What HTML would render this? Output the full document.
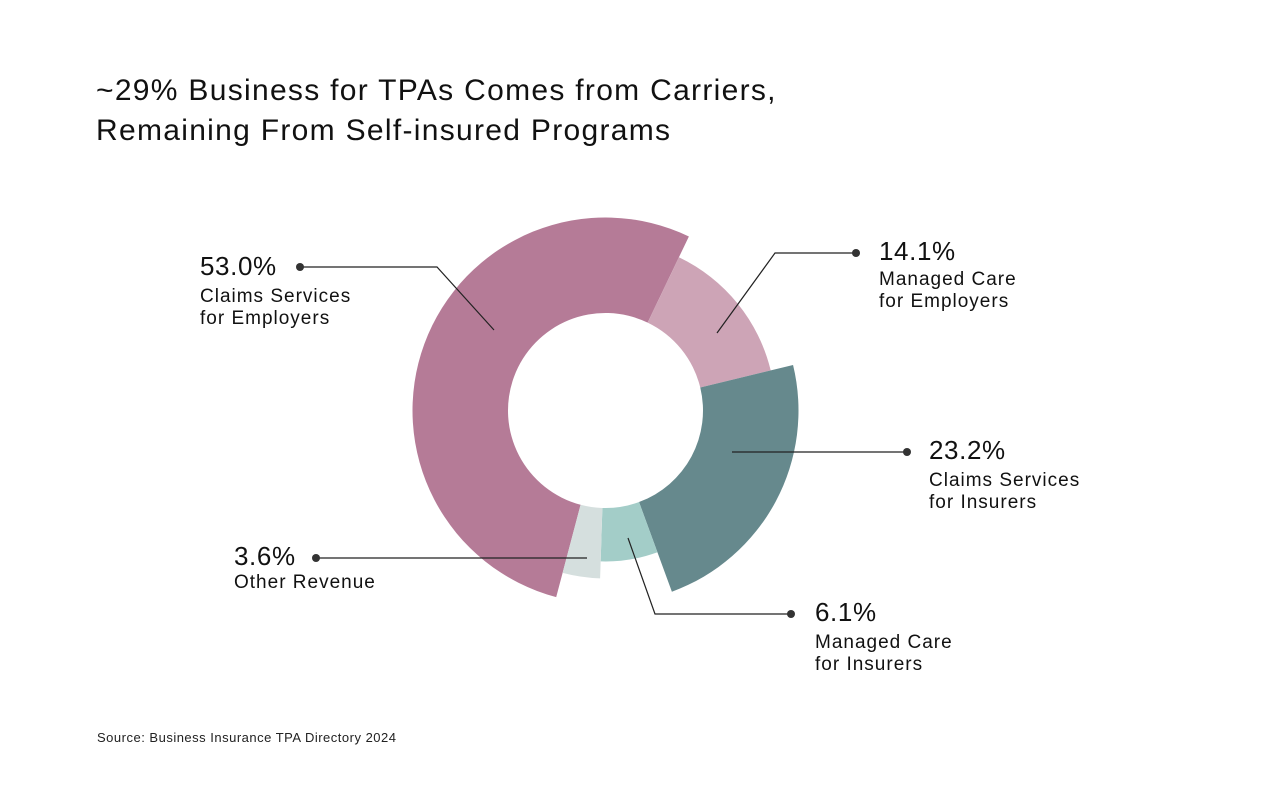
<!DOCTYPE html>
<html><head><meta charset="utf-8"><style>
body{margin:0;background:#fff;}
svg{display:block;font-family:"Liberation Sans",sans-serif;}
</style></head><body>
<svg width="1280" height="801" viewBox="0 0 1280 801">
<rect width="1280" height="801" fill="#fff"/>
<g font-size="30" letter-spacing="1.3" fill="#111">
<text x="96" y="100">~29% Business for TPAs Comes from Carriers,</text>
<text x="96" y="140">Remaining From Self-insured Programs</text>
</g>
<g id="slices"></g>
<g stroke="#222" stroke-width="1.2" fill="none">
<polyline points="300,267 437,267 494,330"/>
<polyline points="856,253 775,253 717,333"/>
<polyline points="907,452 732,452"/>
<polyline points="791,614 655,614 628,538"/>
<polyline points="316,558 587,558"/>
</g>
<g fill="#333">
<circle cx="300" cy="267" r="4"/><circle cx="856" cy="253" r="4"/><circle cx="907" cy="452" r="4"/><circle cx="791" cy="614" r="4"/><circle cx="316" cy="558" r="4"/>
</g>
<g fill="#111">
<g><text x="200" y="275" font-size="26" letter-spacing="0.6">53.0%</text><text x="200" y="302" font-size="19" letter-spacing="1">Claims Services</text><text x="200" y="324" font-size="19" letter-spacing="1">for Employers</text></g>
<g><text x="879" y="260" font-size="26" letter-spacing="0.6">14.1%</text><text x="879" y="285" font-size="19" letter-spacing="1">Managed Care</text><text x="879" y="307" font-size="19" letter-spacing="1">for Employers</text></g>
<g><text x="929" y="459" font-size="26" letter-spacing="0.6">23.2%</text><text x="929" y="486" font-size="19" letter-spacing="1">Claims Services</text><text x="929" y="508" font-size="19" letter-spacing="1">for Insurers</text></g>
<g><text x="815" y="621" font-size="26" letter-spacing="0.6">6.1%</text><text x="815" y="648" font-size="19" letter-spacing="1">Managed Care</text><text x="815" y="670" font-size="19" letter-spacing="1">for Insurers</text></g>
<g><text x="234" y="565" font-size="26" letter-spacing="0.6">3.6%</text><text x="234" y="588" font-size="19" letter-spacing="1">Other Revenue</text></g>
</g>
<text x="97" y="742" font-size="13" letter-spacing="0.5" fill="#222">Source: Business Insurance TPA Directory 2024</text>
</svg>
<script>
const categories=["Claims Services for Employers","Managed Care for Employers","Claims Services for Insurers","Managed Care for Insurers","Other Revenue"];
const values=[53.0,14.1,23.2,6.1,3.6];
const outerRadii=[193,170,193,151,168];
const colors=["#b57b97","#cda4b6","#66898d","#a3cdc8","#d5dfde"];
const cx=605.5,cy=410.5,rin=97.5,startDeg=194.8;
const g=document.getElementById('slices');
const total=values.reduce((a,b)=>a+b,0);
let a=startDeg;
function pt(deg,r){const t=deg*Math.PI/180;return [cx+r*Math.sin(t),cy-r*Math.cos(t)];}
values.forEach((v,i)=>{
  const sweep=v/total*360,a0=a,a1=a+sweep;a=a1;
  const R=outerRadii[i],large=sweep>180?1:0;
  const p1=pt(a0,R),p2=pt(a1,R),p3=pt(a1,rin),p4=pt(a0,rin);
  const p=document.createElementNS('http://www.w3.org/2000/svg','path');
  p.setAttribute('d',`M${p1} A${R},${R} 0 ${large} 1 ${p2} L${p3} A${rin},${rin} 0 ${large} 0 ${p4} Z`);
  p.setAttribute('fill',colors[i]);
  
  
  g.appendChild(p);
});
</script>
</body></html>
